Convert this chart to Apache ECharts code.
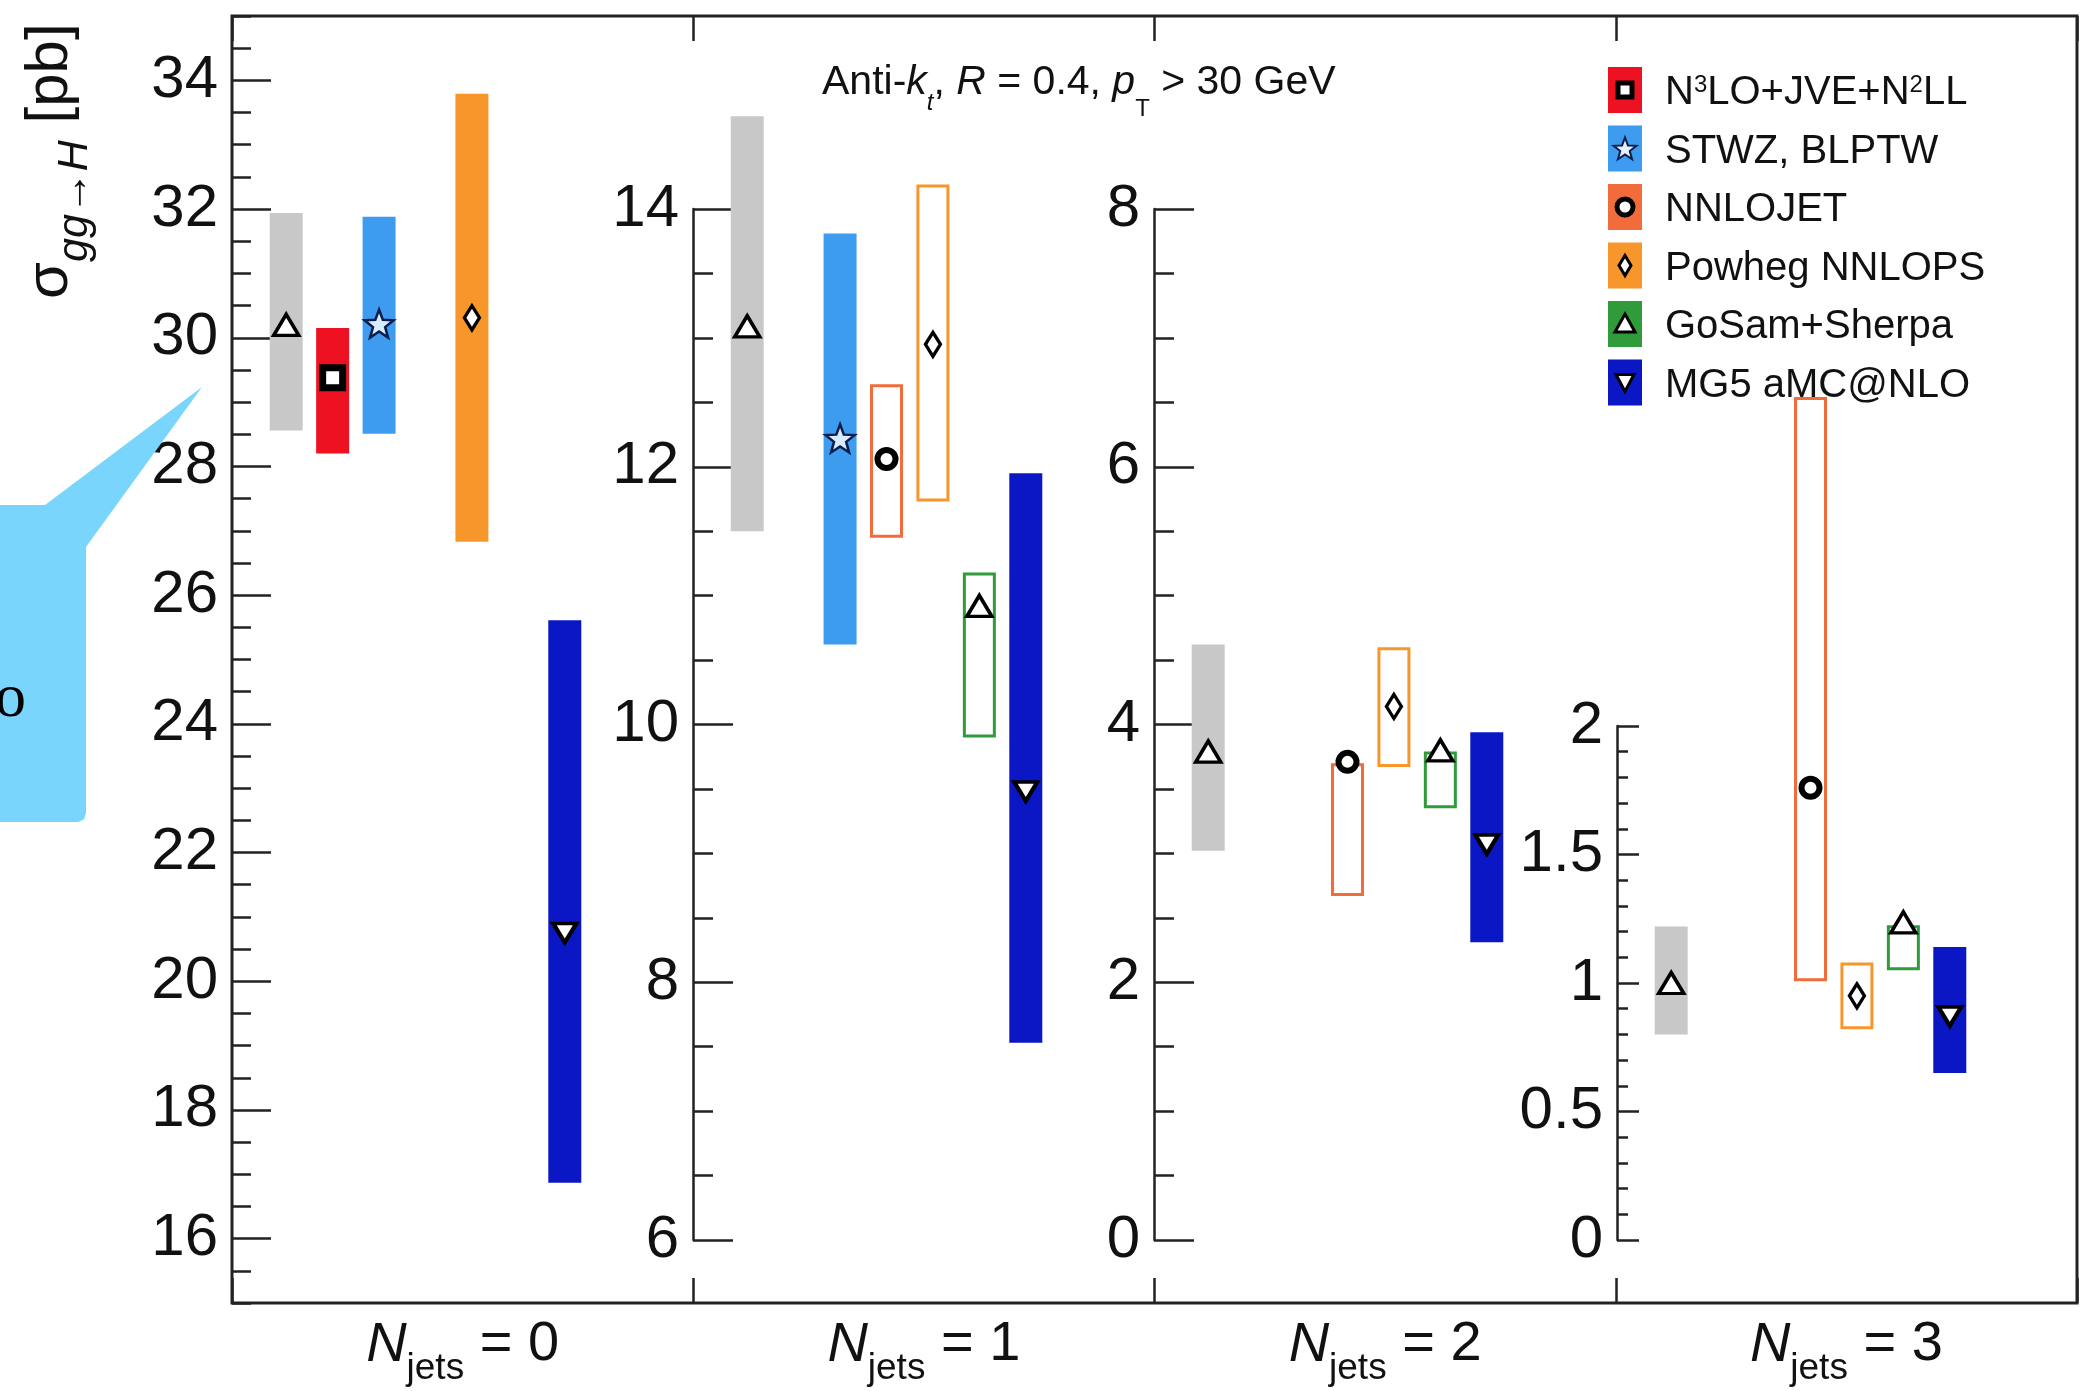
<!DOCTYPE html>
<html>
<head>
<meta charset="utf-8">
<script src="https://cdn.jsdelivr.net/npm/echarts@6/dist/echarts.min.js"></script>
<style>
html,body{margin:0;padding:0;background:#fff;}
#c{width:2090px;height:1391px;}
</style>
</head>
<body>
<div id="c"></div>
<script>
// ---------------- DATA ----------------
const njets = ['0', '1', '2', '3'];
// model slots inside every panel (first one = grey reference band, not in legend)
const models = ['Reference', 'N³LO+JVE+N²LL', 'STWZ, BLPTW', 'NNLOJET', 'Powheg NNLOPS', 'GoSam+Sherpa', 'MG5 aMC@NLO'];

// N_jets = 0   [ref, N3LO, STWZ, NNLOJET, Powheg, GoSam, MG5]
const central0 = [30.2, 29.38, 30.22, null, 30.31, null, 20.75];
const low0     = [28.56, 28.2, 28.51, null, 26.83, null, 16.87];
const high0    = [31.94, 30.15, 31.88, null, 33.79, null, 25.61];
// N_jets = 1
const central1 = [13.09, null, 12.22, 12.06, 12.95, 10.92, 9.48];
const low1     = [11.5, null, 10.62, 11.45, 11.73, 9.9, 7.53];
const high1    = [14.72, null, 13.81, 12.64, 14.19, 11.18, 11.95];
// N_jets = 2
const central2 = [3.79, null, null, 3.71, 4.14, 3.8, 3.07];
const low2     = [3.02, null, null, 2.67, 3.67, 3.35, 2.31];
const high2    = [4.62, null, null, 3.7, 4.6, 3.79, 3.94];
// N_jets = 3
const central3 = [1.0, null, null, 1.76, 0.95, 1.236, 0.87];
const low3     = [0.8, null, null, 1.007, 0.82, 1.05, 0.65];
const high3    = [1.22, null, null, 3.28, 1.08, 1.225, 1.14];

// tick labels of the four y axes
const yTicks0 = [16, 18, 20, 22, 24, 26, 28, 30, 32, 34];
const yTicks1 = [6, 8, 10, 12, 14];
const yTicks2 = [0, 2, 4, 6, 8];
const yTicks3 = [0, 0.5, 1, 1.5, 2];

const legendModels = [1, 2, 3, 4, 5, 6];

// ---------------- STYLE ----------------
const FONT = '"Liberation Sans", Arial, Helvetica, sans-serif';
const AX = '#222';
const COLORS = ['#c8c8c8', '#ee1122', '#3d9bf0', '#f26b3a', '#f7962b', '#2f9b3b', '#0b17c5'];
const FILLED_ALWAYS = [0, 2, 6];
const BOX_W = 33;

function starPath() {
  let d = '';
  for (let k = 0; k < 10; k++) {
    const a = -Math.PI / 2 + k * Math.PI / 5;
    const r = k % 2 === 0 ? 10 : 4.2;
    d += (k === 0 ? 'M' : 'L') + (10 + r * Math.cos(a)).toFixed(3) + ' ' + (10 + r * Math.sin(a)).toFixed(3) + ' ';
  }
  return 'path://' + d + 'Z';
}
const STAR = starPath();
const MARK = [
  {symbol: 'triangle', size: [25, 21], fill: '#fff', stroke: '#000', bw: 3.5},
  {symbol: 'rect', size: [20, 20], fill: '#fff', stroke: '#000', bw: 7},
  {symbol: STAR, size: [29, 28], fill: '#d8ebff', stroke: '#0a1d4d', bw: 2.5},
  {symbol: 'circle', size: [18, 18], fill: '#fff', stroke: '#000', bw: 6},
  {symbol: 'diamond', size: [15, 24], fill: '#fff', stroke: '#000', bw: 3.5},
  {symbol: 'triangle', size: [25, 21], fill: '#fff', stroke: '#000', bw: 3.5},
  {symbol: 'triangle', rotate: 180, size: [23, 19], fill: '#fff', stroke: '#000', bw: 4}
];

const centrals = [central0, central1, central2, central3];
const lows = [low0, low1, low2, low3];
const highs = [high0, high1, high2, high3];

// ---------------- GRIDS / AXES ----------------
const grids = [
  {left: 232, top: 16, width: 1845, height: 1287, show: true, borderColor: AX, borderWidth: 3, backgroundColor: 'transparent'},
  {left: 263, top: 16, width: 325, height: 1287},
  {left: 724, top: 209, width: 325, height: 1031},
  {left: 1185, top: 209, width: 325, height: 1031},
  {left: 1648, top: 726, width: 325, height: 514}
].map(g => Object.assign({outerBoundsMode: 'none', containLabel: false}, g));

const tickLine = {color: AX, width: 2.5};
const xAxes = [
  {
    gridIndex: 0, type: 'category', data: njets, position: 'bottom', boundaryGap: true,
    axisLine: {show: false, onZero: false},
    axisTick: {show: true, inside: true, length: 25, lineStyle: tickLine},
    splitLine: {show: false},
    axisLabel: {
      interval: 0, margin: 14, color: '#111', fontFamily: FONT,
      formatter: v => '{n|N}{s|jets}{t| = ' + v + '}',
      rich: {
        n: {fontSize: 56, fontStyle: 'italic', verticalAlign: 'top', color: '#111', fontFamily: FONT},
        s: {fontSize: 37, verticalAlign: 'top', padding: [33, 0, 0, 0], color: '#111', fontFamily: FONT},
        t: {fontSize: 56, verticalAlign: 'top', color: '#111', fontFamily: FONT}
      }
    }
  },
  {
    gridIndex: 0, type: 'category', data: njets, position: 'top', boundaryGap: true,
    axisLine: {show: false, onZero: false},
    axisTick: {show: true, inside: true, length: 25, lineStyle: tickLine},
    axisLabel: {show: false}, splitLine: {show: false}
  }
];
for (let p = 0; p < 4; p++) {
  xAxes.push({gridIndex: p + 1, type: 'category', data: models, show: false, boundaryGap: true,
    axisLine: {onZero: false}});
}

const labelStyle = {fontSize: 60, color: '#111', fontFamily: FONT, margin: 14};
const yAxes = [
  {
    gridIndex: 0, type: 'value', position: 'left', min: 15, max: 35,
    axisLine: {show: false}, splitLine: {show: false},
    axisTick: {show: true, inside: true, length: 39, lineStyle: tickLine, customValues: yTicks0},
    axisLabel: Object.assign({customValues: yTicks0}, labelStyle)
  },
  {
    gridIndex: 0, type: 'value', position: 'left', min: 15, max: 35, interval: 0.5,
    axisLine: {show: false}, splitLine: {show: false},
    axisTick: {show: true, inside: true, length: 19, lineStyle: tickLine},
    axisLabel: {show: false}
  },
  {gridIndex: 1, type: 'value', min: 15, max: 35, show: false, splitLine: {show: false}}
];
function panelAxis(gridIndex, ticks, minorSplit, majorLen, minorLen) {
  return {
    gridIndex, type: 'value', position: 'left', offset: 31,
    min: ticks[0], max: ticks[ticks.length - 1], interval: ticks[1] - ticks[0],
    axisLine: {show: true, onZero: false, lineStyle: tickLine},
    axisTick: {show: true, inside: true, length: majorLen, lineStyle: tickLine},
    minorTick: {show: true, splitNumber: minorSplit, length: minorLen, lineStyle: tickLine},
    splitLine: {show: false}, minorSplitLine: {show: false},
    axisLabel: Object.assign({}, labelStyle)
  };
}
yAxes.push(panelAxis(2, yTicks1, 4, 40, 20));
yAxes.push(panelAxis(3, yTicks2, 4, 40, 20));
yAxes.push(panelAxis(4, yTicks3, 5, 22, 11));

// ---------------- SERIES ----------------
function makeRenderItem(p) {
  return function (params, api) {
    const m = api.value(3);
    const top = api.coord([api.value(0), api.value(2)]);
    const bot = api.coord([api.value(0), api.value(1)]);
    const x = top[0] - BOX_W / 2;
    const filled = p === 0 || FILLED_ALWAYS.indexOf(m) >= 0;
    if (filled) {
      return {type: 'rect', shape: {x: x, y: top[1], width: BOX_W, height: bot[1] - top[1]},
        style: {fill: COLORS[m]}};
    }
    return {type: 'rect', shape: {x: x + 1.5, y: top[1] + 1.5, width: BOX_W - 3, height: bot[1] - top[1] - 3},
      style: {fill: 'none', stroke: COLORS[m], lineWidth: 3}};
  };
}

const yAxisOfPanel = [2, 3, 4, 5];
const series = [];
for (let p = 0; p < 4; p++) {
  const boxes = [], marks = [];
  for (let m = 0; m < models.length; m++) {
    if (centrals[p][m] == null) continue;
    boxes.push([m, lows[p][m], highs[p][m], m]);
    const s = MARK[m];
    marks.push({
      value: [m, centrals[p][m]], symbol: s.symbol, symbolSize: s.size, symbolRotate: s.rotate || 0,
      itemStyle: {color: s.fill, borderColor: s.stroke, borderWidth: s.bw, opacity: 1}
    });
  }
  series.push({
    type: 'custom', xAxisIndex: p + 2, yAxisIndex: yAxisOfPanel[p], clip: false, z: 2, silent: true,
    encode: {x: 0, y: [1, 2]}, renderItem: makeRenderItem(p), data: boxes
  });
  series.push({
    type: 'scatter', xAxisIndex: p + 2, yAxisIndex: yAxisOfPanel[p], clip: false, z: 3, silent: true,
    data: marks
  });
}

// ---------------- GRAPHICS (legend, texts, callout) ----------------
function markerGraphic(m, cx, cy) {
  const base = {z: 60, silent: true};
  if (m === 1) return Object.assign({type: 'rect', shape: {x: cx - 7, y: cy - 7, width: 14, height: 14},
    style: {fill: '#fff', stroke: '#000', lineWidth: 5}}, base);
  if (m === 2) {
    const pts = [];
    for (let k = 0; k < 10; k++) {
      const a = -Math.PI / 2 + k * Math.PI / 5, r = k % 2 === 0 ? 12 : 5;
      pts.push([cx + r * Math.cos(a), cy + 1 + r * Math.sin(a)]);
    }
    return Object.assign({type: 'polygon', shape: {points: pts}, style: {fill: '#e6f1ff', stroke: '#0a1d4d', lineWidth: 2}}, base);
  }
  if (m === 3) return Object.assign({type: 'circle', shape: {cx: cx, cy: cy, r: 8},
    style: {fill: '#fff', stroke: '#000', lineWidth: 5}}, base);
  if (m === 4) return Object.assign({type: 'polygon', shape: {points: [[cx, cy - 10], [cx + 6, cy], [cx, cy + 10], [cx - 6, cy]]},
    style: {fill: '#fff', stroke: '#000', lineWidth: 3}}, base);
  if (m === 5) return Object.assign({type: 'polygon', shape: {points: [[cx, cy - 10], [cx + 10, cy + 8], [cx - 10, cy + 8]]},
    style: {fill: '#fff', stroke: '#000', lineWidth: 3}}, base);
  return Object.assign({type: 'polygon', shape: {points: [[cx - 9, cy - 8], [cx + 9, cy - 8], [cx, cy + 9]]},
    style: {fill: '#fff', stroke: '#000', lineWidth: 3}}, base);
}

const graphics = [];
legendModels.forEach((m, i) => {
  const cy = 90 + 58.5 * i;
  graphics.push({type: 'rect', z: 50, silent: true, shape: {x: 1608, y: cy - 23, width: 34, height: 46}, style: {fill: COLORS[m]}});
  graphics.push(markerGraphic(m, 1625, cy));
  let txt = '{r|' + models[m] + '}';
  if (m === 1) txt = '{r|N}{sp|3}{r|LO+JVE+N}{sp|2}{r|LL}';
  graphics.push({
    type: 'text', z: 50, silent: true, x: 1665, y: cy + 3 - 20,
    style: {
      text: txt, align: 'left', verticalAlign: 'top', textAlign: 'left', textVerticalAlign: 'top',
      rich: {
        r: {fontSize: 40, verticalAlign: 'top', fill: '#111', fontFamily: FONT},
        sp: {fontSize: 24, verticalAlign: 'top', fill: '#111', fontFamily: FONT}
      }
    }
  });
});

// annotation text "Anti-k_t, R = 0.4, p_T > 30 GeV"
graphics.push({
  type: 'text', z: 50, silent: true, x: 822, y: 62.5,
  style: {
    text: '{r|Anti-}{i|k}{sb|t}{r|, }{i|R}{r| = 0.4, }{i|p}{su|T}{r| > 30 GeV}',
    align: 'left', verticalAlign: 'top', textAlign: 'left', textVerticalAlign: 'top',
    rich: {
      r: {fontSize: 41, verticalAlign: 'top', fill: '#111', fontFamily: FONT},
      i: {fontSize: 41, verticalAlign: 'top', fill: '#111', fontFamily: FONT, fontStyle: 'italic'},
      sb: {fontSize: 24, verticalAlign: 'top', padding: [29, 0, 0, 0], fill: '#111', fontFamily: FONT, fontStyle: 'italic'},
      su: {fontSize: 24, verticalAlign: 'top', padding: [35, 0, 0, 0], fill: '#111', fontFamily: FONT}
    }
  }
});

// y axis title
graphics.push({
  type: 'text', z: 50, silent: true, x: 20, y: 299, rotation: Math.PI / 2,
  style: {
    text: '{m|σ}{s|gg→H}{m| [pb]}',
    align: 'left', verticalAlign: 'top', textAlign: 'left', textVerticalAlign: 'top',
    rich: {
      m: {fontSize: 60, verticalAlign: 'top', fill: '#111', fontFamily: FONT},
      s: {fontSize: 43, verticalAlign: 'top', padding: [34, 0, 0, 0], fill: '#111', fontFamily: FONT, fontStyle: 'italic'}
    }
  }
});

// callout bubble
graphics.push({
  type: 'polygon', z: 70, silent: true,
  shape: {points: [[0, 505], [45, 505], [202, 387], [86, 547], [86, 813], [84, 819.5], [78, 822], [0, 822]]},
  style: {fill: '#7ad5fc'}
});
graphics.push({
  type: 'text', z: 71, silent: true, x: -5, y: 700,
  style: {text: 'o', fontSize: 62, fontFamily: '"Liberation Serif", "DejaVu Serif", serif', fill: '#000',
    align: 'left', verticalAlign: 'middle', textAlign: 'left', textVerticalAlign: 'middle'}
});

const chart = echarts.init(document.getElementById('c'), null, {renderer: 'canvas'});
chart.setOption({
  backgroundColor: '#fff',
  animation: false,
  textStyle: {fontFamily: FONT},
  grid: grids,
  xAxis: xAxes,
  yAxis: yAxes,
  series: series,
  graphic: {elements: graphics}
});
</script>
</body>
</html>
